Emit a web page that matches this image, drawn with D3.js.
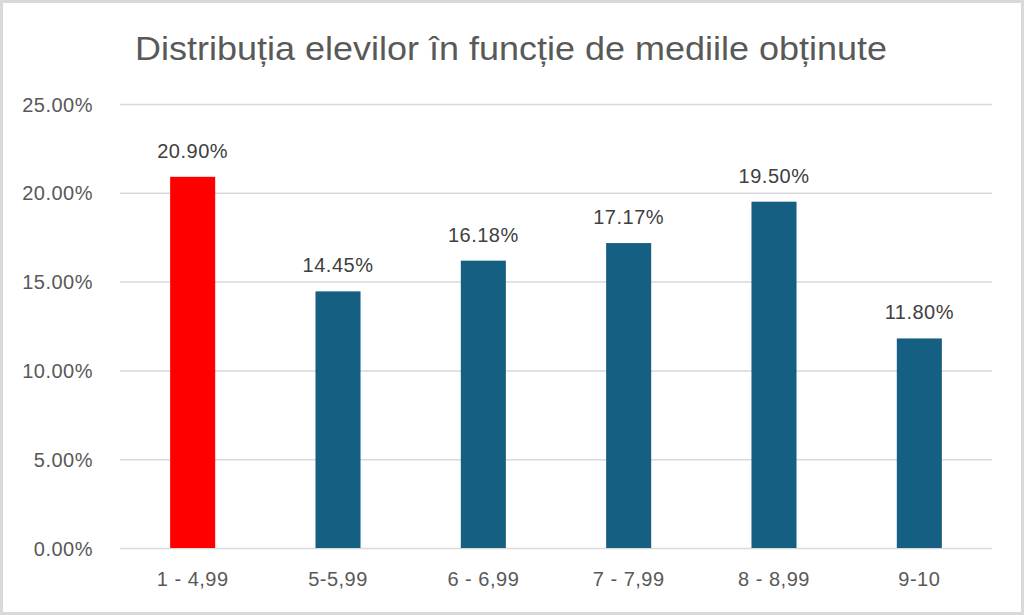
<!DOCTYPE html>
<html lang="ro">
<head>
<meta charset="UTF-8">
<title>Distribuția elevilor</title>
<style>
  body { margin: 0; background: #fff; }
  svg { display: block; }
  .grid line { stroke: #d9d9d9; stroke-width: 1.5; }
  .grid path { display: none; }
  .axis text { fill: #595959; font-size: 20px; letter-spacing: 0.5px; }
  .axis path, .axis line { display: none; }
  .val { fill: #404040; font-size: 20px; letter-spacing: 0.5px; }
</style>
</head>
<body>
<svg width="1024" height="615"></svg>
<script src="https://d3js.org/d3.v7.min.js"></script>
<script>
// date
var categories = ["1 - 4,99", "5-5,99", "6 - 6,99", "7 - 7,99", "8 - 8,99", "9-10"];
var values = [20.90, 14.45, 16.18, 17.17, 19.50, 11.80];
var barColors = ["#ff0000", "#156082", "#156082", "#156082", "#156082", "#156082"];
var yTicks = [0, 5, 10, 15, 20, 25];
var title = "Distribuția elevilor în funcție de mediile obținute";

var svg = d3.select("svg"),
    margin = {top: 104, right: 32, bottom: 67, left: 120},
    width = +svg.attr("width") - margin.left - margin.right,
    height = +svg.attr("height") - margin.top - margin.bottom;

svg.style("font-family", "'Liberation Sans', Arial, sans-serif");

// chenar
svg.append("rect")
    .attr("x", 1.5).attr("y", 1.5)
    .attr("width", 1021).attr("height", 612)
    .attr("fill", "#fff")
    .attr("stroke", "#d9d9d9")
    .attr("stroke-width", 3);

svg.append("text")
    .attr("x", 511)
    .attr("y", 60)
    .attr("text-anchor", "middle")
    .attr("fill", "#595959")
    .style("font-family", "'Liberation Sans Narrow', 'Liberation Sans', sans-serif")
    .style("font-size", "33px")
    .attr("textLength", 752)
    .attr("lengthAdjust", "spacingAndGlyphs")
    .text(title);

var g = svg.append("g").attr("transform", "translate(" + margin.left + "," + margin.top + ")");

var x = d3.scaleBand()
    .domain(categories)
    .range([0, width])
    .paddingInner(0.69)
    .paddingOuter(0.345);

var y = d3.scaleLinear()
    .domain([0, 25])
    .range([height, 0]);

g.append("g")
    .attr("class", "grid")
    .call(d3.axisLeft(y).tickValues(yTicks).tickSize(-width).tickFormat(""));

g.append("g")
    .attr("class", "axis")
    .attr("transform", "translate(-24,0)")
    .call(d3.axisLeft(y).tickValues(yTicks).tickSize(0).tickFormat(function(d) { return d.toFixed(2) + "%"; }))
    .selectAll("text").attr("dy", "0.35em");

g.append("g")
    .attr("class", "axis")
    .attr("transform", "translate(0," + height + ")")
    .call(d3.axisBottom(x).tickSize(0).tickPadding(24));

g.selectAll(".bar")
  .data(values)
  .enter().append("rect")
    .attr("class", "bar")
    .attr("x", function(d, i) { return x(categories[i]); })
    .attr("y", function(d) { return y(d); })
    .attr("width", x.bandwidth())
    .attr("height", function(d) { return height - y(d); })
    .attr("fill", function(d, i) { return barColors[i]; });

g.selectAll(".val")
  .data(values)
  .enter().append("text")
    .attr("class", "val")
    .attr("x", function(d, i) { return x(categories[i]) + x.bandwidth() / 2; })
    .attr("y", function(d) { return y(d) - 19; })
    .attr("text-anchor", "middle")
    .text(function(d) { return d.toFixed(2) + "%"; });
</script>
</body>
</html>
